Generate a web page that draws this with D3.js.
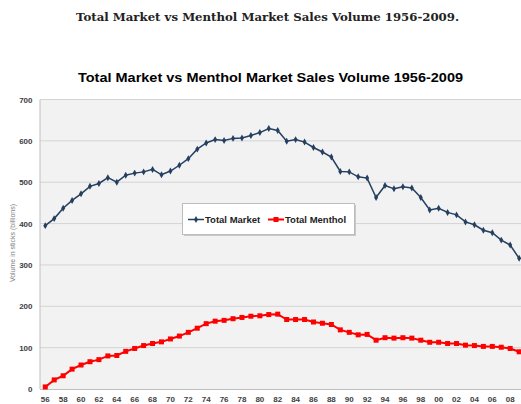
<!DOCTYPE html>
<html><head><meta charset="utf-8">
<script src="https://cdn.jsdelivr.net/npm/d3@7"></script>
<style>body{margin:0;background:#fff}svg{display:block}</style>
</head><body><svg id="c" width="521" height="404"></svg>
<script>
const years = ["56","57","58","59","60","61","62","63","64","65","66","67","68","69",
  "70","71","72","73","74","75","76","77","78","79",
  "80","81","82","83","84","85","86","87","88","89",
  "90","91","92","93","94","95","96","97","98","99",
  "00","01","02","03","04","05","06","07","08","09"];
const tickLabels = ["56","58","60","62","64","66","68","70","72","74","76","78","80","82","84","86","88","90","92","94","96","98","00","02","04","06","08"];
const yTicks = [0,100,200,300,400,500,600,700];
const totalMarket = [395,412,437,456,472,490,497,511,500,517,522,525,531,518,
  527,541,557,580,595,603,601,606,607,613,
  620,630,625,599,603,597,584,573,561,526,
  525,513,510,463,492,484,489,486,463,433,
  437,427,421,404,397,384,378,360,348,316];
const totalMenthol = [5,22,32,48,58,66,71,80,81,91,98,105,110,114,
  121,128,137,147,158,164,166,170,173,176,
  177,180,181,168,168,168,162,159,156,143,
  137,131,132,118,124,123,124,123,118,113,
  113,110,110,106,105,103,103,101,98,90];
const seriesNames = ["Total Market","Total Menthol"];
const pageTitle = "Total Market vs Menthol Market Sales Volume 1956-2009.";
const chartTitle = "Total Market vs Menthol Market Sales Volume 1956-2009";
const yTitle = "Volume in sticks (billions)";

const svg = d3.select("#c");
const L = 40, R = 523.6, T = 99.5, B = 389;
const x = d3.scaleBand().domain(years).range([40.8, R]);
const cx = d => x(d) + x.bandwidth()/2;
const y = d3.scaleLinear().domain([0,700]).range([B, T]);

svg.append("text").attr("x", 76).attr("y", 21)
  .attr("font-family","DejaVu Serif, serif").attr("font-weight","bold").attr("font-size",11.5)
  .attr("textLength",383).attr("lengthAdjust","spacingAndGlyphs")
  .attr("fill","#222").text(pageTitle);
svg.append("text").attr("x", 78).attr("y", 82)
  .attr("font-family","Liberation Sans, Arial, sans-serif").attr("font-weight","bold").attr("font-size",13.5)
  .attr("textLength",385).attr("lengthAdjust","spacingAndGlyphs")
  .attr("fill","#000").text(chartTitle);

// plot background
svg.append("rect").attr("x", L).attr("y", T).attr("width", 521-L).attr("height", B-T).attr("fill","#f2f2f2");
// gridlines
svg.append("g").selectAll("line").data(yTicks.filter(v=>v>0)).join("line")
  .attr("x1", L).attr("x2", 521).attr("y1", d=>y(d)).attr("y2", d=>y(d))
  .attr("stroke","#d4d4d4").attr("stroke-width",1);
// axes lines
svg.append("line").attr("x1",L).attr("x2",L).attr("y1",T).attr("y2",B).attr("stroke","#bfbfbf");
svg.append("line").attr("x1",L).attr("x2",521).attr("y1",B+0.5).attr("y2",B+0.5).attr("stroke","#bfbfbf");

const yAxis = svg.append("g").attr("transform",`translate(${L},0)`)
  .call(d3.axisLeft(y).tickValues(yTicks).tickSize(0).tickPadding(7.5));
yAxis.select(".domain").remove();
yAxis.selectAll("text").attr("font-family","Liberation Sans, Arial, sans-serif").attr("font-weight","bold")
  .attr("font-size",8).attr("fill","#404040");

const xAxis = svg.append("g").attr("transform",`translate(0,${B})`)
  .call(d3.axisBottom(x).tickValues(tickLabels).tickSize(0).tickPadding(7));
xAxis.select(".domain").remove();
xAxis.selectAll("text").attr("font-family","Liberation Sans, Arial, sans-serif").attr("font-weight","bold")
  .attr("font-size",8).attr("fill","#404040");

svg.append("text").attr("transform",`translate(15,${243}) rotate(-90)`).attr("text-anchor","middle")
  .attr("font-family","Liberation Sans, Arial, sans-serif").attr("font-size",7).attr("fill","#808080").text(yTitle);

const line = d3.line().x((d,i)=>cx(years[i])).y(d=>y(d));
const navy = "#243f60", red = "#ff0000";
svg.append("path").datum(totalMarket).attr("d", line).attr("fill","none").attr("stroke",navy).attr("stroke-width",1.5);
svg.append("g").selectAll("path").data(totalMarket).join("path")
  .attr("d", d3.symbol(d3.symbolDiamond, 14))
  .attr("transform",(d,i)=>`translate(${cx(years[i])},${y(d)})`).attr("fill",navy);

svg.append("path").datum(totalMenthol).attr("d", line).attr("fill","none").attr("stroke",red).attr("stroke-width",2);
svg.append("g").selectAll("rect").data(totalMenthol).join("rect")
  .attr("x",(d,i)=>cx(years[i])-2.5).attr("y",d=>y(d)-2.5).attr("width",5).attr("height",5).attr("fill",red);

// legend
const lg = svg.append("g");
lg.append("rect").attr("x",184).attr("y",205).attr("width",172).attr("height",31).attr("fill","#c8c8c8");
lg.append("rect").attr("x",182.5).attr("y",203.5).attr("width",172).attr("height",31).attr("fill","#fff").attr("stroke","#bdbdbd");
const items = [{name:seriesNames[0], c:navy, x0:188}, {name:seriesNames[1], c:red, x0:268}];
items.forEach((it,k)=>{
  lg.append("line").attr("x1",it.x0).attr("x2",it.x0+16).attr("y1",219.5).attr("y2",219.5).attr("stroke",it.c).attr("stroke-width",k?2:1.5);
  if(k===0) lg.append("path").attr("d",d3.symbol(d3.symbolDiamond,14)).attr("transform",`translate(${it.x0+8},219.5)`).attr("fill",it.c);
  else lg.append("rect").attr("x",it.x0+5.5).attr("y",217).attr("width",5).attr("height",5).attr("fill",it.c);
  lg.append("text").attr("x",it.x0+17).attr("y",223).attr("font-family","Liberation Sans, Arial, sans-serif")
    .attr("font-weight","bold").attr("font-size",9.5).attr("fill","#222").text(it.name);
});
</script></body></html>
